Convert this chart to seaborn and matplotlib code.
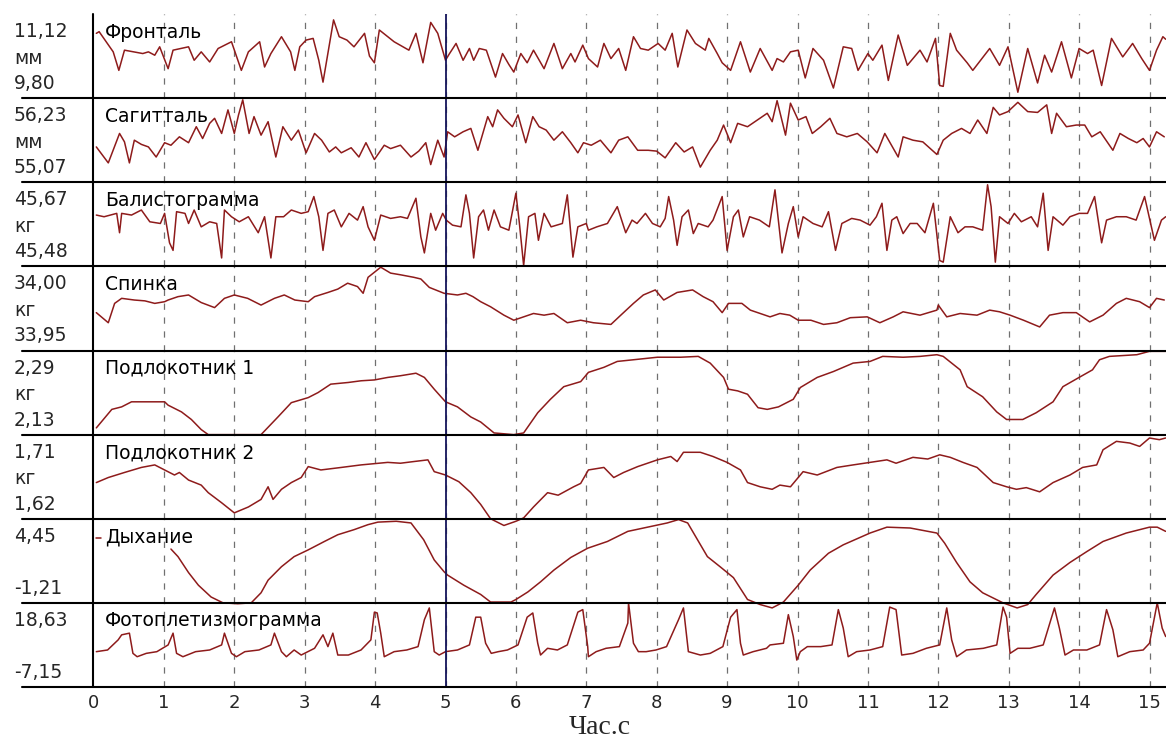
import matplotlib
matplotlib.use("Agg")
import matplotlib.pyplot as plt
from matplotlib.lines import Line2D
import seaborn as sns
import numpy as np

# ---- channels: name, unit, scale limits shown in the left column ----
channels = ["Фронталь", "Сагитталь", "Балистограмма", "Спинка",
            "Подлокотник 1", "Подлокотник 2", "Дыхание", "Фотоплетизмограмма"]
units = ["мм", "мм", "кг", "кг", "кг", "кг", "", ""]
scale_lo = [9.80, 55.07, 45.48, 33.95, 2.13, 1.62, -1.21, -7.15]
scale_hi = [11.12, 56.23, 45.67, 34.00, 2.29, 1.71, 4.45, 18.63]
x_ticks = list(range(0, 16))
x_label = "Час.с"

# ---- traces: time (s) and level in % of the channel's scale ----
frontal_t = [0.04, 0.08, 0.28, 0.36, 0.44, 0.57, 0.70, 0.78, 0.87, 0.94, 1.06, 1.13, 1.35, 1.43, 1.53, 1.65, 1.77,
             1.96, 2.10, 2.20, 2.36, 2.43, 2.52, 2.67, 2.80, 2.86, 2.93, 3.02, 3.12, 3.20, 3.26, 3.41, 3.49, 3.60,
             3.70, 3.85, 3.92, 3.99, 4.06, 4.27, 4.48, 4.58, 4.68, 4.79, 4.89, 5.00, 5.05, 5.15, 5.25, 5.34, 5.40,
             5.48, 5.58, 5.71, 5.81, 5.90, 5.97, 6.07, 6.16, 6.25, 6.40, 6.54, 6.66, 6.78, 6.84, 6.95, 7.03, 7.16,
             7.25, 7.35, 7.46, 7.56, 7.67, 7.77, 7.88, 8.02, 8.12, 8.22, 8.30, 8.43, 8.55, 8.69, 8.74, 8.86, 8.93,
             9.05, 9.19, 9.33, 9.47, 9.64, 9.71, 9.80, 9.90, 10.01, 10.11, 10.22, 10.37, 10.51, 10.65, 10.77, 10.86,
             11.00, 11.07, 11.20, 11.29, 11.43, 11.56, 11.74, 11.84, 11.96, 12.02, 12.07, 12.17, 12.26, 12.41,
             12.49, 12.73, 12.87, 12.99, 13.13, 13.27, 13.41, 13.51, 13.61, 13.75, 13.89, 14.00, 14.12, 14.20,
             14.32, 14.46, 14.62, 14.76, 14.89, 15.00, 15.10, 15.19, 15.23]
frontal_lvl = [77, 79, 55, 33, 57, 55, 53, 55, 51, 61, 35, 57, 61, 45, 55, 43, 59,
               67, 33, 55, 67, 37, 53, 73, 55, 33, 61, 69, 71, 45, 19, 93, 73, 69,
               61, 77, 50, 42, 81, 67, 57, 77, 42, 90, 77, 45, 52, 65, 45, 59, 45,
               59, 57, 25, 53, 40, 31, 53, 42, 57, 35, 65, 35, 53, 43, 63, 47, 37,
               65, 47, 59, 33, 73, 59, 57, 65, 57, 77, 37, 81, 65, 57, 71, 53, 42,
               33, 67, 31, 59, 33, 47, 43, 55, 57, 24, 59, 45, 12, 61, 59, 33,
               53, 45, 63, 21, 75, 39, 57, 43, 71, 15, 14, 77, 57, 42,
               33, 59, 39, 61, 7, 59, 18, 51, 31, 67, 24, 59, 53, 57,
               15, 71, 49, 65, 47, 33, 57, 73, 70]

sagittal_t = [0.04, 0.21, 0.37, 0.44, 0.51, 0.58, 0.68, 0.78, 0.89, 1.01, 1.10, 1.22, 1.35, 1.46, 1.55, 1.65, 1.72,
              1.82, 1.91, 2.00, 2.06, 2.12, 2.21, 2.28, 2.38, 2.48, 2.59, 2.69, 2.81, 2.91, 3.02, 3.14, 3.24, 3.35,
              3.44, 3.52, 3.66, 3.77, 3.87, 3.99, 4.13, 4.22, 4.36, 4.51, 4.62, 4.72, 4.79, 4.89, 4.98, 5.03, 5.13,
              5.25, 5.36, 5.46, 5.60, 5.67, 5.74, 5.83, 5.95, 6.03, 6.14, 6.24, 6.33, 6.43, 6.54, 6.66, 6.78, 6.88,
              6.96, 7.07, 7.20, 7.35, 7.46, 7.59, 7.73, 7.88, 8.00, 8.12, 8.27, 8.39, 8.51, 8.62, 8.76, 8.86, 8.95,
              9.05, 9.15, 9.29, 9.43, 9.57, 9.64, 9.71, 9.83, 9.90, 10.01, 10.12, 10.21, 10.33, 10.46, 10.56, 10.70,
              10.85, 10.99, 11.13, 11.24, 11.43, 11.50, 11.64, 11.78, 11.98, 12.07, 12.19, 12.33, 12.45, 12.56,
              12.69, 12.78, 12.87, 12.99, 13.13, 13.27, 13.41, 13.54, 13.61, 13.68, 13.82, 13.96, 14.08, 14.18,
              14.30, 14.48, 14.58, 14.70, 14.82, 14.91, 15.00, 15.10, 15.21]
sagittal_lvl = [42, 23, 58, 48, 23, 50, 45, 42, 30, 47, 44, 54, 47, 66, 52, 70, 76,
                58, 86, 58, 80, 98, 58, 78, 56, 72, 30, 66, 50, 62, 35, 58, 50, 36,
                42, 35, 41, 30, 47, 27, 44, 40, 44, 30, 37, 47, 21, 50, 30, 60, 54,
                60, 64, 38, 78, 66, 86, 76, 66, 80, 47, 78, 66, 62, 50, 60, 47, 35,
                47, 44, 50, 35, 50, 54, 38, 38, 37, 29, 47, 36, 42, 18, 38, 50, 68,
                47, 70, 66, 74, 82, 72, 97, 56, 94, 74, 78, 58, 66, 76, 58, 54,
                58, 48, 35, 58, 30, 54, 50, 48, 33, 50, 58, 64, 58, 74,
                58, 89, 80, 84, 95, 84, 83, 92, 58, 82, 66, 68, 68, 54,
                60, 38, 58, 52, 47, 52, 42, 60, 54]

ballisto_t = [0.04, 0.15, 0.33, 0.37, 0.40, 0.54, 0.68, 0.80, 0.95, 1.01, 1.08, 1.13, 1.18, 1.30, 1.35, 1.43, 1.53,
              1.65, 1.75, 1.82, 1.86, 1.96, 2.07, 2.20, 2.34, 2.43, 2.52, 2.59, 2.70, 2.81, 2.95, 3.05, 3.13, 3.20,
              3.26, 3.33, 3.42, 3.52, 3.63, 3.75, 3.83, 3.90, 3.99, 4.08, 4.22, 4.36, 4.46, 4.58, 4.65, 4.70, 4.79,
              4.86, 4.96, 5.01, 5.10, 5.22, 5.29, 5.34, 5.40, 5.47, 5.54, 5.61, 5.69, 5.78, 5.90, 6.00, 6.05, 6.11,
              6.18, 6.27, 6.32, 6.40, 6.50, 6.66, 6.73, 6.81, 6.88, 7.00, 7.03, 7.15, 7.30, 7.44, 7.56, 7.65, 7.72,
              7.84, 7.94, 8.05, 8.12, 8.17, 8.24, 8.29, 8.36, 8.45, 8.52, 8.59, 8.73, 8.80, 8.93, 9.00, 9.09, 9.16,
              9.23, 9.32, 9.46, 9.60, 9.68, 9.78, 9.87, 9.94, 10.01, 10.08, 10.22, 10.35, 10.44, 10.54, 10.63,
              10.77, 10.89, 11.03, 11.12, 11.20, 11.27, 11.34, 11.41, 11.50, 11.60, 11.70, 11.81, 11.93, 12.02,
              12.07, 12.17, 12.28, 12.38, 12.49, 12.63, 12.70, 12.75, 12.81, 12.87, 12.99, 13.08, 13.18, 13.32,
              13.41, 13.49, 13.56, 13.63, 13.77, 13.87, 14.00, 14.12, 14.22, 14.32, 14.39, 14.53, 14.67, 14.81,
              14.93, 15.07, 15.17, 15.23]
ballisto_lvl = [61, 59, 63, 40, 63, 61, 67, 53, 51, 63, 28, 19, 65, 63, 51, 67, 47,
                53, 51, 10, 67, 59, 53, 59, 40, 59, 10, 59, 59, 67, 63, 65, 83, 59,
                19, 63, 67, 47, 63, 55, 71, 47, 31, 61, 57, 59, 57, 81, 35, 16, 63,
                43, 63, 55, 49, 47, 85, 63, 10, 59, 67, 43, 67, 47, 43, 87, 51, 1,
                59, 63, 31, 63, 47, 51, 85, 11, 47, 51, 43, 47, 51, 71, 40, 55, 51,
                63, 51, 47, 57, 83, 55, 25, 59, 67, 39, 51, 47, 55, 83, 19, 59, 67,
                35, 59, 55, 47, 91, 16, 51, 71, 35, 59, 51, 47, 65, 19, 51,
                57, 55, 49, 59, 75, 19, 55, 59, 39, 51, 51, 40, 75, 7,
                5, 59, 40, 47, 47, 43, 97, 71, 5, 59, 51, 63, 53, 59,
                47, 87, 19, 59, 49, 59, 63, 63, 83, 28, 55, 59, 59, 55,
                83, 31, 55, 59]

backrest_t = [0.04, 0.21, 0.30, 0.40, 0.58, 0.73, 0.87, 1.01, 1.06, 1.20, 1.35, 1.53, 1.72, 1.86, 2.00, 2.19, 2.38,
              2.57, 2.71, 2.86, 3.05, 3.14, 3.33, 3.47, 3.61, 3.75, 3.83, 3.90, 3.99, 4.08, 4.22, 4.36, 4.55, 4.65,
              4.77, 4.98, 5.17, 5.29, 5.39, 5.50, 5.64, 5.83, 5.97, 6.11, 6.25, 6.40, 6.54, 6.73, 6.92, 7.10, 7.35,
              7.49, 7.67, 7.81, 7.98, 8.10, 8.29, 8.51, 8.66, 8.80, 8.93, 9.02, 9.21, 9.33, 9.47, 9.61, 9.75, 9.89,
              10.01, 10.19, 10.37, 10.56, 10.75, 10.99, 11.17, 11.36, 11.50, 11.74, 11.98, 12.00, 12.12, 12.31,
              12.55, 12.73, 12.87, 13.02, 13.21, 13.44, 13.58, 13.77, 13.96, 14.15, 14.34, 14.53, 14.67, 14.86,
              15.00, 15.10, 15.21]
backrest_lvl = [45, 33, 56, 62, 60, 59, 56, 58, 60, 64, 66, 57, 51, 62, 66, 62, 54,
                62, 66, 60, 58, 64, 69, 73, 80, 76, 68, 87, 93, 99, 92, 90, 87, 85,
                75, 68, 66, 68, 64, 58, 52, 42, 36, 40, 44, 42, 44, 33, 36, 33, 31,
                42, 56, 66, 72, 60, 69, 72, 64, 58, 45, 56, 56, 48, 44, 40, 44, 42,
                36, 36, 31, 33, 39, 40, 33, 40, 46, 42, 48, 54, 40, 44,
                42, 48, 46, 42, 36, 28, 42, 45, 45, 34, 42, 56, 62, 58,
                51, 62, 60]

armrest1_t = [0.04, 0.16, 0.26, 0.40, 0.54, 0.82, 1.01, 1.06, 1.25, 1.39, 1.53, 1.63, 2.38, 2.62, 2.81, 3.05, 3.19,
              3.37, 3.62, 3.80, 3.99, 4.18, 4.36, 4.58, 4.70, 4.84, 5.00, 5.17, 5.36, 5.50, 5.69, 5.97, 6.11, 6.31,
              6.49, 6.68, 6.92, 7.03, 7.25, 7.44, 7.67, 8.01, 8.34, 8.59, 8.76, 8.95, 9.02, 9.15, 9.29, 9.44, 9.57,
              9.73, 9.94, 10.04, 10.28, 10.51, 10.79, 11.03, 11.21, 11.50, 11.74, 11.98, 12.07, 12.31, 12.41, 12.63,
              12.83, 12.97, 13.20, 13.39, 13.63, 13.77, 14.00, 14.19, 14.29, 14.43, 14.82, 15.00, 15.23]
armrest1_lvl = [8, 20, 30, 33, 39, 39, 39, 35, 27, 18, 6, 0, 0, 21, 38, 44, 50,
                60, 62, 64, 65, 68, 70, 73, 68, 54, 39, 33, 21, 15, 2, 0, 2, 26,
                42, 57, 63, 74, 80, 87, 89, 92, 92, 93, 85, 68, 54, 52, 48, 32, 30,
                33, 42, 56, 68, 75, 85, 87, 93, 92, 93, 95, 93, 77, 57, 45,
                27, 18, 18, 26, 39, 57, 68, 77, 89, 93, 95, 99, 99]

armrest2_t = [0.04, 0.21, 0.44, 0.68, 0.87, 1.01, 1.15, 1.22, 1.35, 1.53, 1.63, 1.82, 2.00, 2.20, 2.38, 2.48, 2.55,
              2.67, 2.81, 2.95, 3.05, 3.23, 3.52, 3.80, 4.18, 4.36, 4.55, 4.75, 4.84, 5.00, 5.19, 5.36, 5.50, 5.64,
              5.83, 6.00, 6.11, 6.25, 6.45, 6.60, 6.82, 6.92, 7.03, 7.25, 7.39, 7.53, 7.73, 8.01, 8.20, 8.29, 8.38,
              8.62, 8.80, 9.00, 9.19, 9.29, 9.47, 9.64, 9.75, 9.90, 10.08, 10.28, 10.56, 10.79, 11.03, 11.27, 11.40,
              11.64, 11.85, 12.02, 12.17, 12.35, 12.55, 12.78, 12.97, 13.11, 13.25, 13.44, 13.63, 13.87, 14.05,
              14.25, 14.34, 14.53, 14.72, 14.86, 15.00, 15.14, 15.23]
armrest2_lvl = [43, 49, 55, 61, 64, 58, 52, 55, 46, 40, 31, 19, 7, 14, 23, 38, 23,
                35, 43, 49, 62, 58, 61, 64, 67, 66, 68, 70, 56, 52, 44, 31, 17, 0,
                -8, -3, 1, 14, 31, 28, 38, 42, 58, 61, 49, 55, 62, 70, 74, 68, 79,
                79, 74, 67, 58, 43, 38, 35, 40, 38, 56, 52, 61, 64, 67, 70, 66,
                73, 71, 76, 73, 67, 61, 43, 38, 35, 37, 32, 43, 52, 61,
                64, 82, 92, 90, 86, 96, 94, 96]

# respiration: short stub at the start, then off scale until 1.1 s
breath_stub_t = [0.03, 0.11]
breath_stub_lvl = [77, 77]
breath_t = [1.10, 1.20, 1.35, 1.49, 1.67, 1.84, 2.05, 2.24, 2.38, 2.48, 2.67, 2.85, 3.05, 3.28, 3.47, 3.70, 3.90,
            4.04, 4.30, 4.51, 4.69, 4.84, 4.98, 5.03, 5.26, 5.50, 5.64, 5.93, 6.00, 6.17, 6.35, 6.54, 6.78, 7.02,
            7.30, 7.59, 7.87, 8.15, 8.31, 8.44, 8.58, 8.72, 8.90, 9.09, 9.29, 9.47, 9.64, 9.80, 10.01, 10.18, 10.44,
            10.65, 11.03, 11.27, 11.60, 11.98, 12.09, 12.26, 12.45, 12.63, 12.92, 13.12, 13.27, 13.39, 13.63,
            13.87, 14.11, 14.34, 14.67, 15.00, 15.11, 15.23]
breath_lvl = [64, 55, 36, 21, 7, 0, -1, 0, 12, 27, 43, 55, 63, 73, 81, 87, 93,
              96, 97, 95, 75, 51, 37, 33, 21, 10, 1, 1, 4, 13, 25, 39, 54, 65,
              73, 85, 90, 95, 99, 95, 75, 55, 43, 30, 4, -2, -6, 1, 21, 39, 59,
              69, 83, 90, 89, 83, 71, 48, 25, 12, 0, -6, -2, 10, 33,
              48, 61, 73, 83, 90, 90, 85]

ppg_t = [0.04, 0.20, 0.35, 0.40, 0.51, 0.56, 0.62, 0.75, 0.90, 1.06, 1.13, 1.18, 1.27, 1.45, 1.65, 1.82, 1.86,
         1.96, 2.03, 2.15, 2.35, 2.52, 2.57, 2.67, 2.74, 2.85, 2.95, 3.14, 3.26, 3.33, 3.40, 3.47, 3.62, 3.80,
         3.94, 3.99, 4.03, 4.08, 4.13, 4.27, 4.45, 4.61, 4.70, 4.77, 4.84, 4.91, 5.00, 5.17, 5.34, 5.43, 5.50,
         5.57, 5.65, 5.75, 5.88, 6.03, 6.16, 6.24, 6.31, 6.35, 6.45, 6.59, 6.73, 6.88, 6.95, 7.02, 7.03, 7.14,
         7.28, 7.47, 7.59, 7.60, 7.67, 7.74, 7.85, 7.99, 8.14, 8.31, 8.38, 8.45, 8.62, 8.76, 8.94, 9.05, 9.14,
         9.19, 9.23, 9.37, 9.56, 9.61, 9.80, 9.87, 9.94, 9.99, 10.04, 10.14, 10.33, 10.49, 10.58, 10.65, 10.72,
         10.84, 11.03, 11.21, 11.31, 11.40, 11.48, 11.64, 11.83, 12.02, 12.12, 12.19, 12.26, 12.40, 12.64,
         12.83, 12.92, 12.97, 13.02, 13.13, 13.30, 13.49, 13.65, 13.72, 13.80, 13.92, 14.11, 14.29, 14.39,
         14.48, 14.55, 14.72, 14.91, 15.00, 15.11, 15.18, 15.23]
ppg_lvl = [42, 44, 56, 62, 64, 40, 36, 40, 42, 50, 64, 40, 36, 42, 44, 50, 64,
           40, 36, 42, 44, 50, 64, 42, 36, 44, 38, 46, 62, 48, 64, 38, 38, 44,
           56, 89, 88, 64, 36, 42, 44, 48, 80, 94, 42, 38, 42, 44, 50, 83, 83,
           52, 40, 42, 44, 50, 83, 88, 52, 38, 46, 44, 50, 89, 92, 48, 36, 42,
           46, 48, 76, 100, 52, 42, 42, 44, 48, 80, 94, 42, 38, 40, 48, 83, 92,
           52, 38, 42, 46, 50, 52, 86, 60, 32, 42, 48, 48, 50, 92, 70, 36,
           42, 44, 48, 95, 92, 38, 40, 46, 50, 94, 56, 36, 44, 46,
           50, 95, 83, 40, 46, 46, 50, 94, 70, 38, 44, 44, 50, 92,
           68, 36, 42, 44, 52, 100, 70, 60]

traces = [(frontal_t, frontal_lvl), (sagittal_t, sagittal_lvl), (ballisto_t, ballisto_lvl),
          (backrest_t, backrest_lvl), (armrest1_t, armrest1_lvl), (armrest2_t, armrest2_lvl),
          (breath_t, breath_lvl), (ppg_t, ppg_lvl)]
cursor_time = 5

# ---- style ----
sns.set_style("white")
plt.rcParams["font.family"] = ["DejaVu Sans"]
plt.rcParams["lines.scale_dashes"] = False

TRACE = "#8e1b1b"
W, H = 1166, 738
x0_px, sec_px = 93.5, 70.4
top_px, panel_px = 14, 84.125
xmax = (W - x0_px) / sec_px


def fx(px):
    return px / W


def fy(py):
    return 1 - py / H


def fmt(v):
    return f"{v:.2f}".replace(".", ",")


fig = plt.figure(figsize=(W / 100, H / 100), dpi=100)
fig.patch.set_facecolor("white")

axes = []
for i, name in enumerate(channels):
    p_top = top_px + panel_px * i
    ax = fig.add_axes([fx(x0_px), fy(p_top + panel_px), 1 - fx(x0_px), panel_px / H])
    lo, hi = scale_lo[i], scale_hi[i]
    ax.set_xlim(0, xmax)
    ax.set_ylim(lo, hi)
    for s in ax.spines.values():
        s.set_visible(False)
    ax.set_yticks([])
    ax.set_xticks([])
    ax.set_facecolor("none")

    for k in range(1, 16):
        ax.axvline(k, color="#707070", lw=0.9, linestyle=(0, (4.5, 5.5)), zorder=1)
    ax.axvline(cursor_time, color="#14145a", lw=1.3, zorder=4)

    t, lvl = traces[i]
    vals = lo + np.asarray(lvl, dtype=float) / 100 * (hi - lo)
    sns.lineplot(x=t, y=vals, ax=ax, color=TRACE, linewidth=1.1, estimator=None,
                 sort=False, clip_on=False, zorder=3)
    if name == "Дыхание":
        stub = lo + np.asarray(breath_stub_lvl, dtype=float) / 100 * (hi - lo)
        sns.lineplot(x=breath_stub_t, y=stub, ax=ax, color=TRACE, linewidth=1.1,
                     estimator=None, sort=False, clip_on=False, zorder=3)

    # channel name inside the panel
    ax.text((105 - x0_px) / sec_px, 1 - 18 / panel_px, name, transform=ax.get_xaxis_transform(),
            fontsize=13.5, va="center", ha="left", color="black", zorder=5)

    # left column: max, unit, min
    fig.text(fx(14), fy(p_top + 17.5), fmt(hi), fontsize=13.5, va="center", ha="left")
    if units[i]:
        fig.text(fx(14), fy(p_top + 44), units[i], fontsize=13.5, va="center", ha="left")
    fig.text(fx(14), fy(p_top + 69.5), fmt(lo), fontsize=13.5, va="center", ha="left")
    ax.set_xlabel("")
    ax.set_ylabel("")
    axes.append(ax)

# bottom axis ticks and label
ax = axes[-1]
ax.set_xticks(x_ticks)
ax.set_xticklabels([str(v) for v in x_ticks], fontsize=13)
ax.tick_params(axis="x", length=0, pad=5)
fig.text(fx(600), fy(727), x_label, fontsize=20, family=["Liberation Serif", "DejaVu Serif"],
         ha="center", va="center")

# panel separators and vertical axis line
for k in range(1, 9):
    y = fy(top_px + panel_px * k)
    fig.add_artist(Line2D([fx(22), 1.0], [y, y], color="black", lw=1.5, zorder=6))
fig.add_artist(Line2D([fx(92.7), fx(92.7)], [fy(top_px), fy(top_px + panel_px * 8)],
                      color="black", lw=1.5, zorder=6))

fig.savefig("out.png", dpi=100, facecolor="white")
